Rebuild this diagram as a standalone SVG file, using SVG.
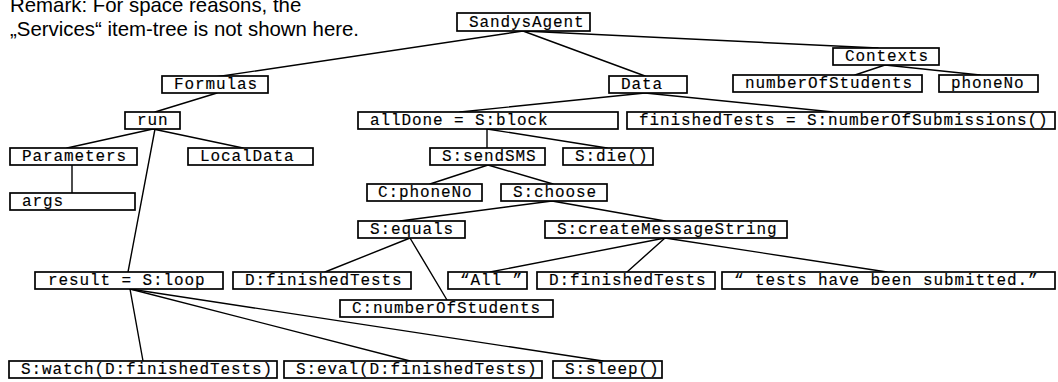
<svg xmlns="http://www.w3.org/2000/svg" width="1058" height="382" viewBox="0 0 1058 382">
<style>
.bx{fill:#fff;stroke:#000;stroke-width:1.7}
.t{font-family:"Liberation Mono",monospace;font-size:16px;letter-spacing:0.9px;fill:#000;stroke:#000;stroke-width:0.15px;white-space:pre}
.c{stroke:#000;stroke-width:1.4;fill:none;stroke-linecap:round}
.r{font-family:"Liberation Sans",Arial,sans-serif;font-size:20.4px;fill:#000}
</style>
<rect width="1058" height="382" fill="#fff"/>
<g id="remark">
<text class="r" x="10" y="12">Remark: For space reasons, the</text>
<text class="r" x="10" y="36">„Services“ item-tree is not shown here.</text>
</g>
<g id="connectors">
<path class="c" d="M523,31 L215,77"/>
<path class="c" d="M523,31 L645,76"/>
<path class="c" d="M523,31 L878,48"/>
<path class="c" d="M885,65 L855,75"/>
<path class="c" d="M885,65 L980,75"/>
<path class="c" d="M217,93 L155,112"/>
<path class="c" d="M645,93 L460,112"/>
<path class="c" d="M645,93 L833,112"/>
<path class="c" d="M153,129 L67,148"/>
<path class="c" d="M153,129 L243,148"/>
<path class="c" d="M155,129 L128,272"/>
<path class="c" d="M72,165 L72,193"/>
<path class="c" d="M487,129 L487,148"/>
<path class="c" d="M487,129 L607,148"/>
<path class="c" d="M488,165 L430,184"/>
<path class="c" d="M488,165 L553,184"/>
<path class="c" d="M552,201 L400,221"/>
<path class="c" d="M552,201 L665,221"/>
<path class="c" d="M410,238 L325,272"/>
<path class="c" d="M410,238 L447,300"/>
<path class="c" d="M665,238 L490,272"/>
<path class="c" d="M665,238 L627,272"/>
<path class="c" d="M665,238 L887,272"/>
<path class="c" d="M130,289 L143,361"/>
<path class="c" d="M130,289 L410,361"/>
<path class="c" d="M130,289 L603,361"/>
</g>
<g id="n-sandysagent"><rect class="bx" x="457" y="13" width="133" height="18"/><text class="t" x="469" y="27">SandysAgent</text></g>
<g id="n-contexts"><rect class="bx" x="833" y="48" width="106" height="17"/><text class="t" x="845" y="61">Contexts</text></g>
<g id="n-formulas"><rect class="bx" x="162" y="76" width="106" height="17"/><text class="t" x="174" y="89">Formulas</text></g>
<g id="n-data"><rect class="bx" x="609" y="76" width="78" height="17"/><text class="t" x="621" y="89">Data</text></g>
<g id="n-numberofstudents"><rect class="bx" x="733" y="75" width="189" height="17"/><text class="t" x="745" y="88">numberOfStudents</text></g>
<g id="n-phoneno"><rect class="bx" x="939" y="75" width="99" height="17"/><text class="t" x="951" y="88">phoneNo</text></g>
<g id="n-run"><rect class="bx" x="125" y="112" width="55" height="17"/><text class="t" x="137" y="125">run</text></g>
<g id="n-alldone"><rect class="bx" x="358" y="112" width="260" height="17"/><text class="t" x="370" y="125">allDone = S:block</text></g>
<g id="n-finishedtests"><rect class="bx" x="627" y="112" width="428" height="17"/><text class="t" x="639" y="125">finishedTests = S:numberOfSubmissions()</text></g>
<g id="n-parameters"><rect class="bx" x="10" y="148" width="127" height="17"/><text class="t" x="22" y="161">Parameters</text></g>
<g id="n-localdata"><rect class="bx" x="188" y="148" width="125" height="17"/><text class="t" x="200" y="161">LocalData</text></g>
<g id="n-sendsms"><rect class="bx" x="430" y="148" width="115" height="17"/><text class="t" x="442" y="161">S:sendSMS</text></g>
<g id="n-die"><rect class="bx" x="563" y="148" width="90" height="17"/><text class="t" x="575" y="161">S:die()</text></g>
<g id="n-args"><rect class="bx" x="10" y="193" width="125" height="17"/><text class="t" x="22" y="206">args</text></g>
<g id="n-c-phoneno"><rect class="bx" x="367" y="184" width="115" height="17"/><text class="t" x="378" y="197">C:phoneNo</text></g>
<g id="n-choose"><rect class="bx" x="501" y="184" width="106" height="17"/><text class="t" x="513" y="197">S:choose</text></g>
<g id="n-equals"><rect class="bx" x="358" y="221" width="107" height="17"/><text class="t" x="370" y="234">S:equals</text></g>
<g id="n-createmessagestring"><rect class="bx" x="545" y="221" width="242" height="17"/><text class="t" x="557" y="234">S:createMessageString</text></g>
<g id="n-result"><rect class="bx" x="35" y="272" width="188" height="17"/><text class="t" x="48" y="285">result = S:loop</text></g>
<g id="n-d-finishedtests-1"><rect class="bx" x="233" y="272" width="178" height="17"/><text class="t" x="245" y="285">D:finishedTests</text></g>
<g id="n-all"><rect class="bx" x="448" y="272" width="79" height="17"/><text class="t" x="460" y="285">“All ”</text></g>
<g id="n-d-finishedtests-2"><rect class="bx" x="537" y="272" width="178" height="17"/><text class="t" x="549" y="285">D:finishedTests</text></g>
<g id="n-submitted"><rect class="bx" x="722" y="272" width="333" height="17"/><text class="t" x="734" y="285">“ tests have been submitted.”</text></g>
<g id="n-c-numberofstudents"><rect class="bx" x="340" y="300" width="213" height="17"/><text class="t" x="352" y="313">C:numberOfStudents</text></g>
<g id="n-watch"><rect class="bx" x="9" y="361" width="268" height="17"/><text class="t" x="21" y="374">S:watch(D:finishedTests)</text></g>
<g id="n-eval"><rect class="bx" x="284" y="361" width="258" height="17"/><text class="t" x="296" y="374">S:eval(D:finishedTests)</text></g>
<g id="n-sleep"><rect class="bx" x="553" y="361" width="109" height="17"/><text class="t" x="565" y="374">S:sleep()</text></g>
</svg>
